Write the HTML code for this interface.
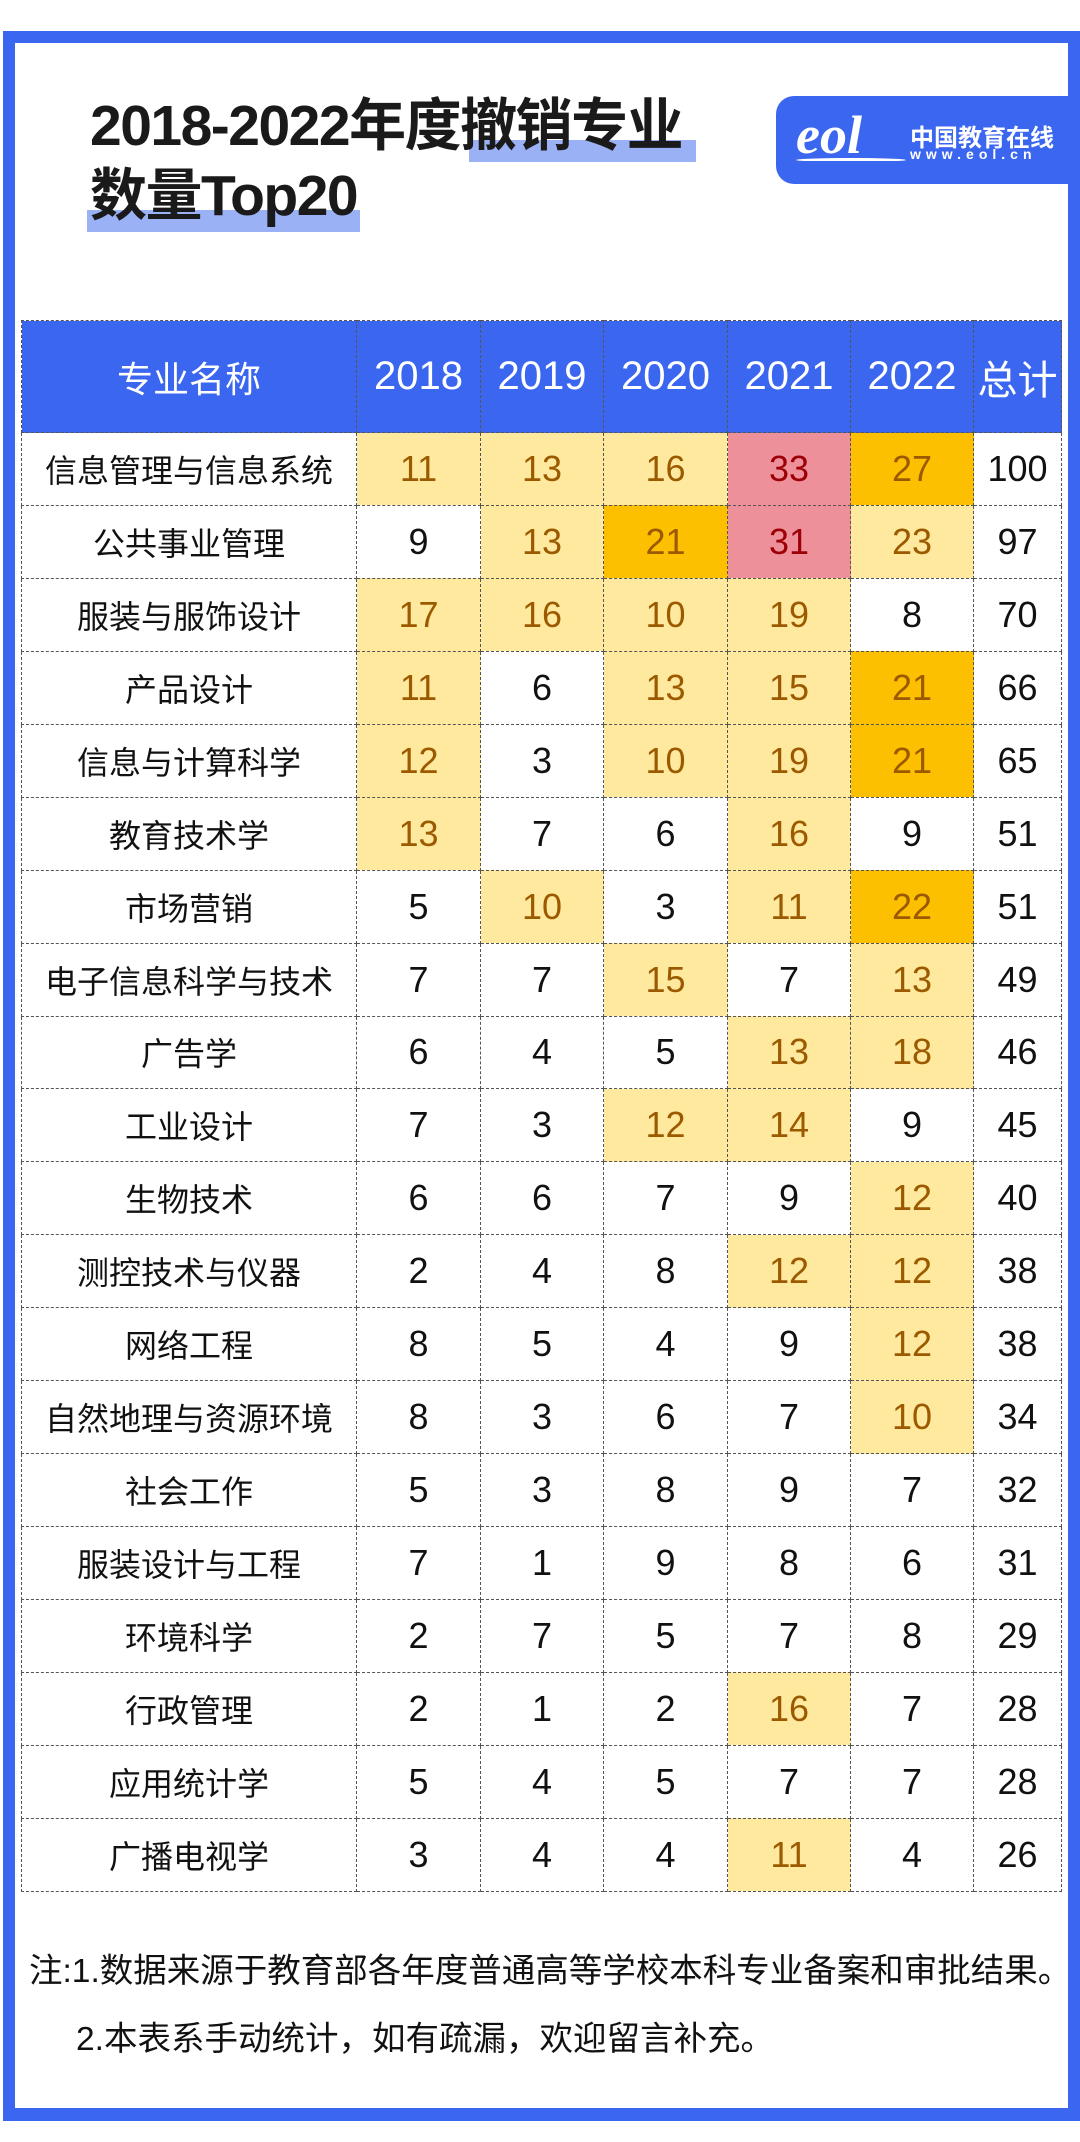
<!DOCTYPE html>
<html><head><meta charset="utf-8"><style>
*{margin:0;padding:0;box-sizing:border-box}
body{width:1080px;height:2142px;background:#fff;position:relative;overflow:hidden;font-family:"Liberation Sans","Noto Sans CJK SC",sans-serif}
.frame{position:absolute;left:3px;top:31px;width:1077px;height:2090px;border:12px solid #3b66ef;border-top-width:12px;border-bottom-width:13px}
.hl{position:absolute;background:#9bb1f5}
.title{position:absolute;left:90px;font-weight:bold;font-size:57px;line-height:64px;color:#1a1a1a;font-family:"Liberation Sans","Noto Sans CJK SC",sans-serif;letter-spacing:-1.5px;white-space:nowrap}
.logo{position:absolute;left:776px;top:96px;width:304px;height:88px;background:#3b66ef;border-radius:18px 0 0 18px}
table{position:absolute;left:21px;top:320px;border-collapse:collapse;table-layout:fixed}
td{border:1px dashed #555;text-align:center;font-size:36px;color:#111;height:72.95px;padding:0}
tr.h td{background:#3b66ef;color:#fff;height:112px;font-size:40px}
td.n{font-size:32px;font-family:"Liberation Sans","Noto Sans CJK SC",sans-serif}
.Y{background:#fee99e;color:#9c5a00}
.O{background:#fdc000;color:#9c5a00}
.P{background:#ee909a;color:#9c0006}
.note{position:absolute;left:29px;font-size:33.5px;color:#111;white-space:nowrap}
</style></head><body>
<div class="frame"></div>
<div class="hl" style="left:469px;top:140px;width:227px;height:22px"></div>
<div class="hl" style="left:87px;top:210px;width:273px;height:22px"></div>
<div class="title" style="top:94px">2018-2022年度撤销专业</div>
<div class="title" style="top:164px">数量Top20</div>
<div class="logo">
<div style="position:absolute;left:20px;top:8px;font-size:54px;color:#fff;font-style:italic;font-family:'Liberation Serif',serif;font-weight:bold">eol</div>
<div style="position:absolute;left:20px;top:62px;width:110px;height:4px;border-top:3px solid #fff;border-radius:50%"></div>
<div style="position:absolute;left:134px;top:22px;font-size:24px;color:#fff;font-weight:bold;font-family:'Noto Sans CJK SC',sans-serif">中国教育在线</div>
<div style="position:absolute;left:134px;top:50px;font-size:14px;color:#fff;letter-spacing:5px;font-weight:bold">www.eol.cn</div>
</div>
<table>
<colgroup><col style="width:335px"><col style="width:124px"><col style="width:123px"><col style="width:124px"><col style="width:123px"><col style="width:123px"><col style="width:88px"></colgroup>
<tr class="h"><td style="font-size:36px">专业名称</td><td>2018</td><td>2019</td><td>2020</td><td>2021</td><td>2022</td><td>总计</td></tr>
<tr><td class="n">信息管理与信息系统</td><td class="Y">11</td><td class="Y">13</td><td class="Y">16</td><td class="P">33</td><td class="O">27</td><td>100</td></tr>
<tr><td class="n">公共事业管理</td><td>9</td><td class="Y">13</td><td class="O">21</td><td class="P">31</td><td class="Y">23</td><td>97</td></tr>
<tr><td class="n">服装与服饰设计</td><td class="Y">17</td><td class="Y">16</td><td class="Y">10</td><td class="Y">19</td><td>8</td><td>70</td></tr>
<tr><td class="n">产品设计</td><td class="Y">11</td><td>6</td><td class="Y">13</td><td class="Y">15</td><td class="O">21</td><td>66</td></tr>
<tr><td class="n">信息与计算科学</td><td class="Y">12</td><td>3</td><td class="Y">10</td><td class="Y">19</td><td class="O">21</td><td>65</td></tr>
<tr><td class="n">教育技术学</td><td class="Y">13</td><td>7</td><td>6</td><td class="Y">16</td><td>9</td><td>51</td></tr>
<tr><td class="n">市场营销</td><td>5</td><td class="Y">10</td><td>3</td><td class="Y">11</td><td class="O">22</td><td>51</td></tr>
<tr><td class="n">电子信息科学与技术</td><td>7</td><td>7</td><td class="Y">15</td><td>7</td><td class="Y">13</td><td>49</td></tr>
<tr><td class="n">广告学</td><td>6</td><td>4</td><td>5</td><td class="Y">13</td><td class="Y">18</td><td>46</td></tr>
<tr><td class="n">工业设计</td><td>7</td><td>3</td><td class="Y">12</td><td class="Y">14</td><td>9</td><td>45</td></tr>
<tr><td class="n">生物技术</td><td>6</td><td>6</td><td>7</td><td>9</td><td class="Y">12</td><td>40</td></tr>
<tr><td class="n">测控技术与仪器</td><td>2</td><td>4</td><td>8</td><td class="Y">12</td><td class="Y">12</td><td>38</td></tr>
<tr><td class="n">网络工程</td><td>8</td><td>5</td><td>4</td><td>9</td><td class="Y">12</td><td>38</td></tr>
<tr><td class="n">自然地理与资源环境</td><td>8</td><td>3</td><td>6</td><td>7</td><td class="Y">10</td><td>34</td></tr>
<tr><td class="n">社会工作</td><td>5</td><td>3</td><td>8</td><td>9</td><td>7</td><td>32</td></tr>
<tr><td class="n">服装设计与工程</td><td>7</td><td>1</td><td>9</td><td>8</td><td>6</td><td>31</td></tr>
<tr><td class="n">环境科学</td><td>2</td><td>7</td><td>5</td><td>7</td><td>8</td><td>29</td></tr>
<tr><td class="n">行政管理</td><td>2</td><td>1</td><td>2</td><td class="Y">16</td><td>7</td><td>28</td></tr>
<tr><td class="n">应用统计学</td><td>5</td><td>4</td><td>5</td><td>7</td><td>7</td><td>28</td></tr>
<tr><td class="n">广播电视学</td><td>3</td><td>4</td><td>4</td><td class="Y">11</td><td>4</td><td>26</td></tr>
</table>
<div class="note" style="top:1943px">注:1.数据来源于教育部各年度普通高等学校本科专业备案和审批结果。</div>
<div class="note" style="top:2011px;left:76px">2.本表系手动统计，如有疏漏，欢迎留言补充。</div>
</body></html>
